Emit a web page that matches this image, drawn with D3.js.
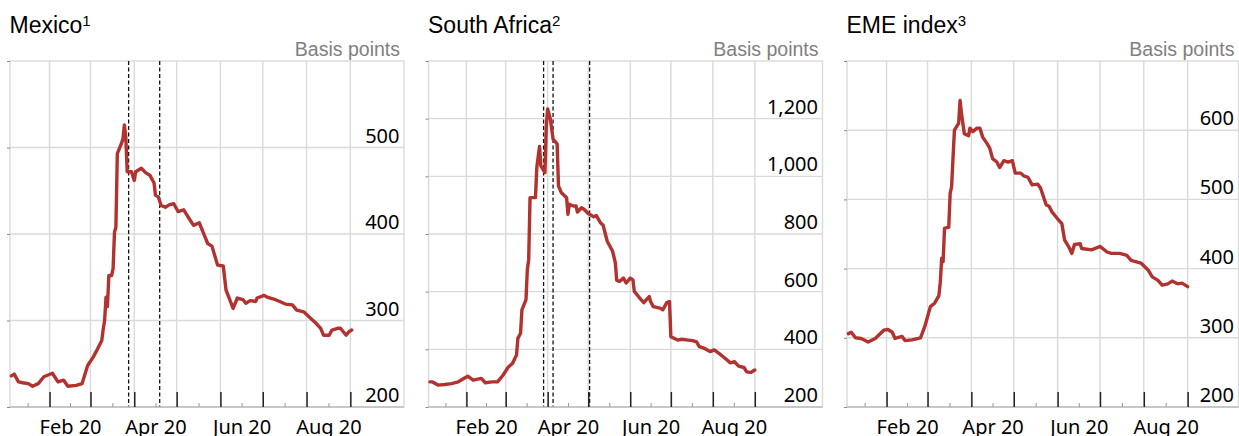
<!DOCTYPE html>
<html>
<head>
<meta charset="utf-8">
<script src="https://cdn.jsdelivr.net/npm/d3@7"></script>
<style>
  html, body { margin: 0; padding: 0; background: #fff; }
  svg { display: block; }
</style>
</head>
<body>
<svg id="chart" width="1239" height="436"></svg>
<script>
// ---- Data: spreads in basis points, 2020 ----
const mexicoDates = ["2020-01-05","2020-01-07","2020-01-10","2020-01-13","2020-01-17","2020-01-20","2020-01-24","2020-01-28","2020-01-31","2020-02-03","2020-02-07","2020-02-11","2020-02-14","2020-02-20","2020-02-24","2020-02-28","2020-03-03","2020-03-05","2020-03-09","2020-03-10","2020-03-11","2020-03-12","2020-03-13","2020-03-14","2020-03-16","2020-03-17","2020-03-18","2020-03-19","2020-03-20","2020-03-23","2020-03-24","2020-03-25","2020-03-26","2020-03-27","2020-03-30","2020-04-01","2020-04-02","2020-04-06","2020-04-09","2020-04-12","2020-04-15","2020-04-16","2020-04-18","2020-04-20","2020-04-23","2020-04-26","2020-04-29","2020-05-02","2020-05-06","2020-05-09","2020-05-13","2020-05-17","2020-05-21","2020-05-23","2020-05-26","2020-05-30","2020-06-03","2020-06-05","2020-06-10","2020-06-13","2020-06-17","2020-06-19","2020-06-22","2020-06-26","2020-06-27","2020-07-02","2020-07-04","2020-07-10","2020-07-13","2020-07-17","2020-07-22","2020-07-25","2020-07-30","2020-08-01","2020-08-05","2020-08-07","2020-08-11","2020-08-13","2020-08-17","2020-08-19","2020-08-23","2020-08-25","2020-08-29","2020-08-31","2020-09-02"];
const mexicoValues = [236,238,229,228,227,224,227,235,237,239,229,231,224,225,227,248,258,264,277,290,300,327,316,352,352,360,402,408,493,505,510,526,512,472,472,462,472,476,471,468,459,445,443,433,431,434,435,426,428,420,410,413,397,389,386,364,363,335,314,326,324,320,323,322,326,329,327,324,322,319,318,312,310,307,301,298,291,283,283,289,291,291,283,287,289];

const southAfricaDates = ["2020-01-05","2020-01-07","2020-01-11","2020-01-16","2020-01-21","2020-01-26","2020-01-30","2020-02-02","2020-02-06","2020-02-12","2020-02-15","2020-02-20","2020-02-24","2020-02-28","2020-03-03","2020-03-06","2020-03-09","2020-03-10","2020-03-12","2020-03-13","2020-03-15","2020-03-16","2020-03-17","2020-03-18","2020-03-19","2020-03-23","2020-03-24","2020-03-26","2020-03-27","2020-03-30","2020-03-31","2020-04-01","2020-04-03","2020-04-05","2020-04-07","2020-04-08","2020-04-09","2020-04-11","2020-04-15","2020-04-16","2020-04-17","2020-04-20","2020-04-22","2020-04-23","2020-04-26","2020-04-28","2020-05-01","2020-05-05","2020-05-07","2020-05-10","2020-05-12","2020-05-15","2020-05-19","2020-05-21","2020-05-22","2020-05-24","2020-05-27","2020-05-29","2020-06-01","2020-06-03","2020-06-04","2020-06-08","2020-06-11","2020-06-15","2020-06-16","2020-06-18","2020-06-23","2020-06-25","2020-06-28","2020-06-30","2020-07-01","2020-07-06","2020-07-09","2020-07-14","2020-07-17","2020-07-20","2020-07-22","2020-07-26","2020-07-30","2020-08-02","2020-08-06","2020-08-10","2020-08-14","2020-08-17","2020-08-20","2020-08-24","2020-08-26","2020-08-29","2020-09-01"];
const southAfricaValues = [287,287,276,278,281,287,299,307,293,299,284,287,287,310,339,351,380,438,456,537,560,572,676,711,926,926,1031,1104,1036,1013,1176,1234,1199,1129,1118,1112,967,944,926,868,903,897,897,876,891,885,871,860,864,839,830,775,740,700,640,635,647,630,647,641,601,578,562,583,566,548,543,537,562,566,444,432,435,432,430,426,409,403,392,398,384,369,353,357,342,337,322,320,328];

const emeDates = ["2020-01-05","2020-01-07","2020-01-10","2020-01-14","2020-01-19","2020-01-24","2020-01-30","2020-02-02","2020-02-05","2020-02-07","2020-02-12","2020-02-14","2020-02-19","2020-02-25","2020-02-28","2020-03-03","2020-03-06","2020-03-09","2020-03-10","2020-03-11","2020-03-12","2020-03-13","2020-03-16","2020-03-17","2020-03-18","2020-03-20","2020-03-23","2020-03-24","2020-03-25","2020-03-27","2020-03-30","2020-03-31","2020-04-02","2020-04-05","2020-04-07","2020-04-09","2020-04-12","2020-04-14","2020-04-16","2020-04-19","2020-04-21","2020-04-24","2020-04-27","2020-04-30","2020-05-02","2020-05-06","2020-05-08","2020-05-11","2020-05-14","2020-05-18","2020-05-20","2020-05-24","2020-05-26","2020-05-28","2020-06-01","2020-06-04","2020-06-06","2020-06-09","2020-06-11","2020-06-13","2020-06-17","2020-06-18","2020-06-25","2020-07-01","2020-07-06","2020-07-09","2020-07-15","2020-07-20","2020-07-23","2020-07-30","2020-08-04","2020-08-07","2020-08-11","2020-08-14","2020-08-18","2020-08-21","2020-08-25","2020-08-28","2020-09-01"];
const emeValues = [306,308,300,299,294,299,311,312,308,299,302,296,297,300,316,345,350,361,380,415,410,458,460,509,518,600,610,643,624,595,592,603,598,603,603,590,581,574,559,554,546,556,554,556,538,538,534,532,521,522,516,492,490,482,472,465,441,431,422,435,436,429,427,432,424,422,422,419,412,408,398,388,383,376,378,382,378,379,374];

// Policy announcement dates (dashed markers)
const mexicoEvents = ["2020-03-28","2020-04-19"];
const southAfricaEvents = ["2020-03-29","2020-04-05","2020-05-02"];
const emeEvents = [];

// Axis ticks and labels
const mexicoTicks = [200, 300, 400, 500];
const southAfricaTicks = [200, 400, 600, 800, 1000, 1200];
const emeTicks = [200, 300, 400, 500, 600];
const mexicoDomain = [200, 600];
const southAfricaDomain = [200, 1400];
const emeDomain = [200, 700];
const monthLabels = ["Feb 20", "Apr 20", "Jun 20", "Aug 20"];
const titles = ["Mexico", "South Africa", "EME index"];
const notes = ["1", "2", "3"];
const unitLabel = "Basis points";

// ---- Layout ----
const parse = d3.utcParse("%Y-%m-%d");
const plotTop = 61, plotBottom = 407;
const panelBoxes = [
  { left: 10,    right: 404,    end: "2020-10-09" },
  { left: 428.5, right: 822.5,  end: "2020-10-21" },
  { left: 847,   right: 1238.5, end: "2020-10-07" }
];
const xStart = parse("2020-01-04");

const panels = [
  { dates: mexicoDates, values: mexicoValues, ticks: mexicoTicks, domain: mexicoDomain, events: mexicoEvents },
  { dates: southAfricaDates, values: southAfricaValues, ticks: southAfricaTicks, domain: southAfricaDomain, events: southAfricaEvents },
  { dates: emeDates, values: emeValues, ticks: emeTicks, domain: emeDomain, events: emeEvents }
];

const svg = d3.select("#chart");
const textFont = "'Liberation Sans', Arial, sans-serif";
const numFont = "'Noto Sans', 'Open Sans', sans-serif";
const gridColor = "#dadada";
const lineColor = "#b1322f";

// Month boundaries and mid-month positions
const monthStarts = d3.utcMonth.range(parse("2020-02-01"), parse("2020-09-02"));
const allMonths = d3.utcMonth.range(parse("2020-01-01"), parse("2020-09-01"));
const monthMids = allMonths.map(m => new Date((+m + +d3.utcMonth.offset(m, 1)) / 2));
const labelled = new Set(monthLabels);
const fmt = d3.utcFormat("%b %y");

panels.forEach((p, i) => {
  const box = panelBoxes[i];
  const g = svg.append("g");
  const x = d3.scaleUtc().domain([xStart, parse(box.end)]).range([box.left, box.right]);
  const y = d3.scaleLinear().domain(p.domain).range([plotBottom, plotTop]);

  // Title with footnote marker
  const t = g.append("text")
    .attr("x", box.left - 0.5).attr("y", 33)
    .style("font-family", textFont).style("font-size", "23px").attr("fill", "#000")
    .text(titles[i]);
  t.append("tspan").attr("dy", -7).style("font-size", "15px").text(notes[i]);

  g.append("text")
    .attr("x", box.right - 4).attr("y", 56)
    .attr("text-anchor", "end")
    .style("font-family", textFont).style("font-size", "19.5px").attr("fill", "#808080")
    .text(unitLabel);

  // Vertical gridlines at month starts
  g.append("g").selectAll("line").data(monthStarts).join("line")
    .attr("x1", d => x(d)).attr("x2", d => x(d))
    .attr("y1", plotTop).attr("y2", plotBottom)
    .attr("stroke", gridColor).attr("stroke-width", 1.4);

  // Horizontal gridlines
  g.append("g").selectAll("line").data(p.ticks.filter(v => v > p.domain[0])).join("line")
    .attr("x1", box.left).attr("x2", box.right)
    .attr("y1", d => y(d)).attr("y2", d => y(d))
    .attr("stroke", gridColor).attr("stroke-width", 1.4);

  // Frame
  g.append("rect")
    .attr("x", box.left).attr("y", plotTop)
    .attr("width", box.right - box.left).attr("height", plotBottom - plotTop)
    .attr("fill", "none").attr("stroke", gridColor).attr("stroke-width", 1.4);

  // Small outer ticks on the left edge
  const leftAxis = g.append("g").attr("transform", `translate(${box.left},0)`)
    .call(d3.axisLeft(y).tickValues(p.ticks.concat([p.domain[1]])).tickSize(3).tickFormat(""));
  leftAxis.select(".domain").remove();
  leftAxis.selectAll("line").attr("stroke", "#888").attr("stroke-width", 1);

  // Value labels inside the right side, sitting above their gridlines
  const valueAxis = g.append("g").attr("transform", `translate(${box.right - 4.5},0)`)
    .call(d3.axisLeft(y).tickValues(p.ticks).tickSize(0).tickPadding(0).tickFormat(d3.format(",")));
  valueAxis.select(".domain").remove();
  valueAxis.selectAll("text")
    .attr("dy", null).attr("y", -5.5)
    .style("font-family", numFont).style("font-size", "20px").attr("fill", "#000");

  // Event markers
  g.append("g").selectAll("line").data(p.events.map(parse)).join("line")
    .attr("x1", d => x(d)).attr("x2", d => x(d))
    .attr("y1", plotTop).attr("y2", plotBottom)
    .attr("stroke", "#111").attr("stroke-width", 1.3).attr("stroke-dasharray", "4,2.5");

  // Bottom axis: baseline, major month ticks, minor mid-month ticks with labels
  const major = g.append("g").attr("transform", `translate(0,${plotBottom})`)
    .call(d3.axisBottom(x).tickValues(monthStarts).tickSize(-15).tickFormat(""));
  major.select(".domain").attr("stroke", "#bdbdbd").attr("stroke-width", 1.5)
    .attr("d", `M${box.left},0H${box.right}`);
  major.selectAll(".tick line").attr("stroke", "#222").attr("stroke-width", 1.5);

  const minor = g.append("g").attr("transform", `translate(0,${plotBottom})`)
    .call(d3.axisBottom(x).tickValues(monthMids).tickSize(-4)
      .tickFormat(d => labelled.has(fmt(d)) ? fmt(d) : ""));
  minor.select(".domain").remove();
  minor.selectAll(".tick line").attr("stroke", "#999").attr("stroke-width", 1);
  minor.selectAll("text")
    .attr("dy", null).attr("y", 27)
    .style("font-family", numFont).style("font-size", "20px").attr("fill", "#000");

  // Spread series
  const pts = p.dates.map((d, k) => ({ date: parse(d), value: p.values[k] }));
  g.append("path").datum(pts)
    .attr("fill", "none").attr("stroke", lineColor).attr("stroke-width", 3.4)
    .attr("stroke-linejoin", "round").attr("stroke-linecap", "round")
    .attr("d", d3.line().x(d => x(d.date)).y(d => y(d.value)));
});
</script>
</body>
</html>
